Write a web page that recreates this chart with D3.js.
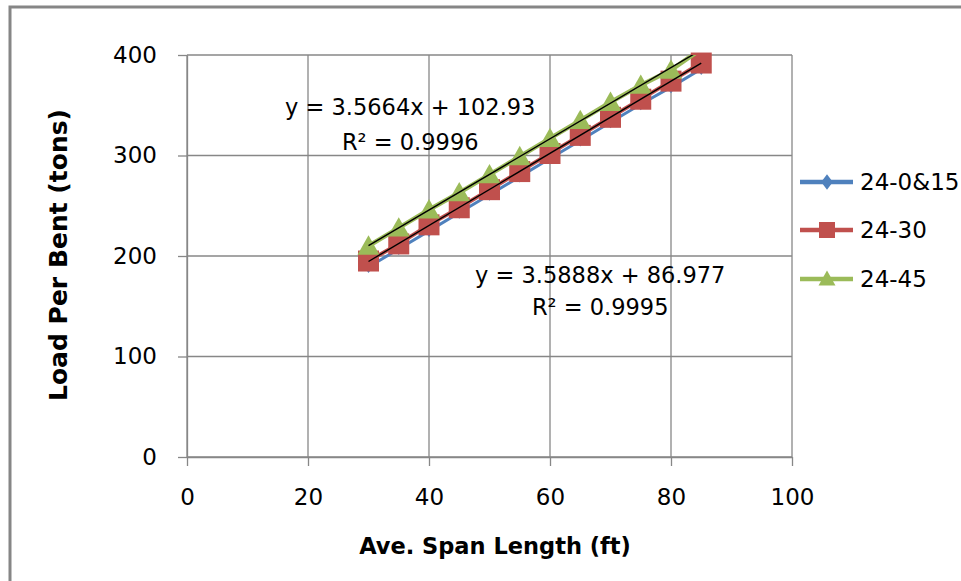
<!DOCTYPE html>
<html>
<head>
<meta charset="utf-8">
<script src="https://cdn.jsdelivr.net/npm/d3@7/dist/d3.min.js"></script>
<style>
  html, body { margin: 0; padding: 0; background: #fff; }
  svg { display: block; }
  text { font-family: "DejaVu Sans", sans-serif; fill: #000; }
</style>
</head>
<body>
<svg id="chart" width="961" height="581"></svg>
<script>
// ---------- data ----------
const spanLengths = [30, 35, 40, 45, 50, 55, 60, 65, 70, 75, 80, 85];
const series24_0_15 = [189, 207, 225, 243, 261, 279, 297, 315, 333, 351, 368, 386];
const series24_30   = [195, 212, 231, 248, 266, 284, 302, 320, 338, 356, 374, 392];
const series24_45   = [210, 228, 246, 263, 281, 299, 317, 335, 353, 370, 385, 406];
const seriesNames   = ["24-0&15", "24-30", "24-45"];
const xTicks = [0, 20, 40, 60, 80, 100];
const yTicks = [0, 100, 200, 300, 400];
const trendLabels = [
  ["y = 3.5664x + 102.93", "R\u00B2 = 0.9996"],
  ["y = 3.5888x + 86.977", "R\u00B2 = 0.9995"]
];

// ---------- setup ----------
const svg = d3.select("#chart");
const x = d3.scaleLinear().domain([0, 100]).range([187, 792]);
const y = d3.scaleLinear().domain([0, 400]).range([457, 55]);
const gridColor = "#878787";
const colors = ["#4F81BD", "#C0504D", "#9BBB59"];

// outer border
svg.append("rect")
  .attr("x", 10).attr("y", 7).attr("width", 1000).attr("height", 1000)
  .attr("fill", "none").attr("stroke", "#868686").attr("stroke-width", 3);

// clip for plot area lines
svg.append("defs").append("clipPath").attr("id", "plotClip")
  .append("rect").attr("x", x(0)).attr("y", y(400))
  .attr("width", x(100) - x(0)).attr("height", y(0) - y(400));

// gridlines
const grid = svg.append("g");
grid.selectAll("line.h").data(yTicks).join("line")
  .attr("x1", x(0)).attr("x2", x(100))
  .attr("y1", d => y(d)).attr("y2", d => y(d))
  .attr("stroke", gridColor).attr("stroke-width", 1.3);
grid.selectAll("line.v").data(xTicks).join("line")
  .attr("y1", y(0)).attr("y2", y(400))
  .attr("x1", d => x(d)).attr("x2", d => x(d))
  .attr("stroke", gridColor).attr("stroke-width", 1.3);

// axes
const yAxis = svg.append("g").attr("transform", `translate(${x(0)},0)`)
  .call(d3.axisLeft(y).tickValues(yTicks).tickSize(9).tickSizeOuter(0).tickPadding(21));
const xAxis = svg.append("g").attr("transform", `translate(0,${y(0)})`)
  .call(d3.axisBottom(x).tickValues(xTicks).tickSize(9).tickSizeOuter(0));
[yAxis, xAxis].forEach(a => {
  a.select(".domain").attr("stroke", gridColor).attr("stroke-width", 1.3);
  a.selectAll(".tick line").attr("stroke", gridColor).attr("stroke-width", 1.3);
  a.selectAll(".tick text").attr("font-size", 23).attr("fill", "#000")
    .style("font-family", "DejaVu Sans, sans-serif");
});
xAxis.selectAll(".tick text").attr("y", 40).attr("dy", "0.35em");

// axis titles
svg.append("text")
  .attr("x", 495).attr("y", 546).attr("dy", "0.35em")
  .attr("text-anchor", "middle").attr("font-size", 22.5).attr("font-weight", "bold")
  .text("Ave. Span Length (ft)");
svg.append("text")
  .attr("transform", "translate(58,255) rotate(-90)")
  .attr("dy", "0.35em")
  .attr("text-anchor", "middle").attr("font-size", 25).attr("font-weight", "bold")
  .text("Load Per Bent (tons)");

// marker paths
function markerPath(kind, s) {
  if (kind === 0) { const w = s * 0.45, h = s * 0.6; return `M0,${-h}L${w},0L0,${h}L${-w},0Z`; }
  if (kind === 1) { const h = s / 2; return `M${-h},${-h}H${h}V${h}H${-h}Z`; }
  const w = s / 2, h = s * 0.88;
  return `M0,${-h / 2 - 1}L${w},${h / 2 - 1}L${-w},${h / 2 - 1}Z`;
}

const allSeries = [series24_0_15, series24_30, series24_45];
const line = d3.line().x(d => x(d[0])).y(d => y(d[1]));
const markerSizes = [10, 21, 22];
const lineWidths = [3, 4, 4.5];

allSeries.forEach((vals, i) => {
  const pts = spanLengths.map((s, k) => [s, vals[k]]);
  svg.append("path").datum(pts)
    .attr("clip-path", "url(#plotClip)")
    .attr("d", line).attr("fill", "none")
    .attr("stroke", colors[i]).attr("stroke-width", lineWidths[i]);
  svg.append("g").selectAll("path").data(pts.filter(p => p[1] <= 400)).join("path")
    .attr("transform", d => `translate(${x(d[0])},${y(d[1])})`)
    .attr("d", markerPath(i, markerSizes[i]))
    .attr("fill", colors[i]);
});

// trendlines (least squares) for 24-45 and 24-30
function fit(xs, ys) {
  const n = xs.length, mx = d3.mean(xs), my = d3.mean(ys);
  let sxy = 0, sxx = 0;
  for (let k = 0; k < n; k++) { sxy += (xs[k] - mx) * (ys[k] - my); sxx += (xs[k] - mx) ** 2; }
  const m = sxy / sxx; return [m, my - m * mx];
}
[series24_45, series24_30].forEach(vals => {
  const [m, b] = fit(spanLengths, vals);
  const x0 = d3.min(spanLengths), x1 = d3.max(spanLengths);
  svg.append("path").datum([[x0, m * x0 + b], [x1, m * x1 + b]])
    .attr("clip-path", "url(#plotClip)")
    .attr("d", line).attr("fill", "none")
    .attr("stroke", "#000").attr("stroke-width", 1.4);
});

// trendline labels (positioned in data units)
const labelPos = [[36.9, 348, 313], [68.3, 181, 149]];
trendLabels.forEach((lbl, i) => {
  const [lx, ly1, ly2] = labelPos[i];
  svg.append("text").attr("x", x(lx)).attr("y", y(ly1)).attr("dy", "0.35em")
    .attr("text-anchor", "middle").attr("font-size", 22.5).text(lbl[0]);
  svg.append("text").attr("x", x(lx)).attr("y", y(ly2)).attr("dy", "0.35em")
    .attr("text-anchor", "middle").attr("font-size", 22.5).text(lbl[1]);
});

// legend
const legendY = [182, 230, 279];
const leg = svg.append("g");
seriesNames.forEach((name, i) => {
  const g = leg.append("g").attr("transform", `translate(0,${legendY[i]})`);
  g.append("line").attr("x1", 800).attr("x2", 853).attr("y1", 0).attr("y2", 0)
    .attr("stroke", colors[i]).attr("stroke-width", 4.5);
  g.append("path").attr("transform", "translate(827,0)")
    .attr("d", markerPath(i, [13, 16, 17][i])).attr("fill", colors[i]);
  g.append("text").attr("x", 860).attr("y", 0).attr("dy", "0.35em")
    .attr("font-size", 23).text(name);
});
</script>
</body>
</html>
